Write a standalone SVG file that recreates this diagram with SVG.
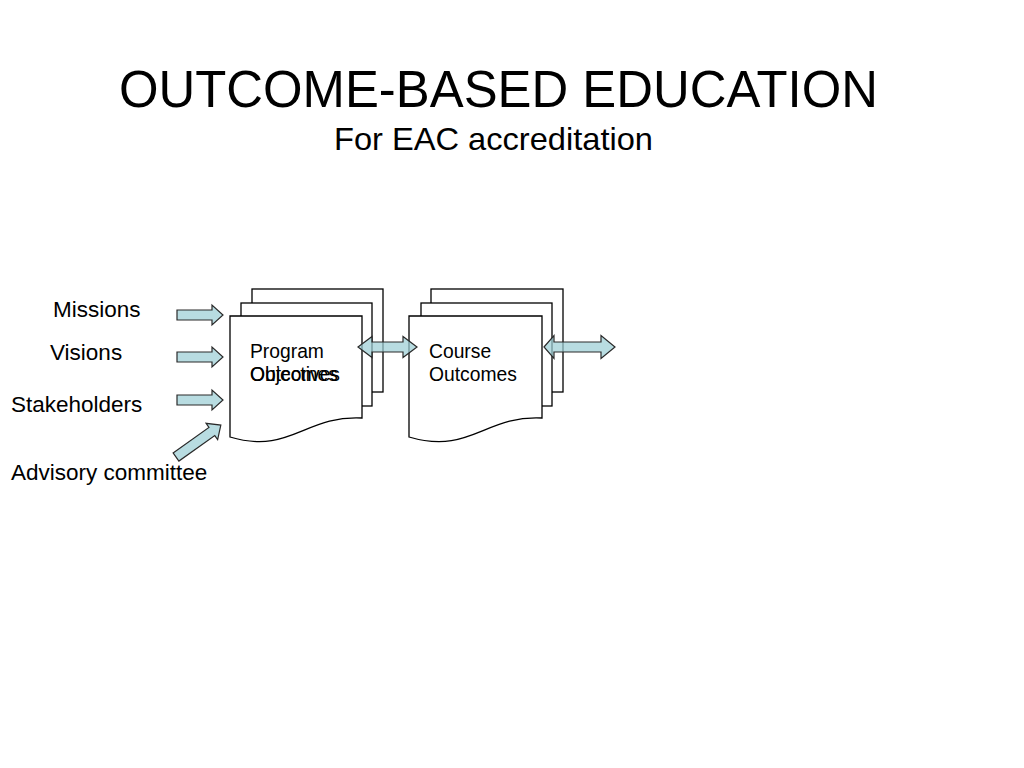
<svg xmlns="http://www.w3.org/2000/svg" width="1024" height="768" viewBox="0 0 1024 768">
  <style>
    text { font-family: "Liberation Sans", Arial, sans-serif; fill: #000; }
    .lbl { font-size: 22.5px; }
    .doc { font-size: 19.3px; }
    .page { fill: #fff; stroke: #000; stroke-width: 1.3; }
    .arr { fill: #9ccfd5; fill-opacity: 0.72; stroke: #2a2a2a; stroke-width: 1.2; stroke-linejoin: miter; }
  </style>
  <defs>
    <path id="rarrow" d="M0,-5 H35 V-10 L46,0 L35,10 V5 H0 Z"/>
  </defs>
  <rect width="1024" height="768" fill="#fff"/>

  <g id="title">
    <text x="119" y="107" font-size="52" textLength="759" lengthAdjust="spacingAndGlyphs">OUTCOME-BASED EDUCATION</text>
  </g>
  <g id="subtitle">
    <text x="334" y="150" font-size="32" textLength="319" lengthAdjust="spacingAndGlyphs">For EAC accreditation</text>
  </g>

  <g id="missions"><text class="lbl" x="53" y="317">Missions</text></g>
  <g id="visions"><text class="lbl" x="50" y="360">Visions</text></g>
  <g id="stakeholders"><text class="lbl" x="11" y="412">Stakeholders</text></g>
  <g id="advisory"><text class="lbl" x="11" y="480">Advisory committee</text></g>

  <g id="program-objectives">
    <rect class="page" x="252" y="289" width="131" height="103"/>
    <rect class="page" x="241" y="303" width="131" height="103"/>
    <path class="page" d="M230,316 H362 V418 C305,415 290,455 230,437 Z"/>
    <text class="doc" x="250" y="358">Program</text>
    <text class="doc" x="250" y="381">Objectives</text>
    <text class="doc" x="250" y="381">Outcomes</text>
  </g>

  <g id="course-outcomes">
    <rect class="page" x="431" y="289" width="132" height="103"/>
    <rect class="page" x="421" y="303" width="131" height="103"/>
    <path class="page" d="M409,316 H542 V418 C485,415 470,455 409,437 Z"/>
    <text class="doc" x="429" y="358">Course</text>
    <text class="doc" x="429" y="381">Outcomes</text>
  </g>

  <g id="connectors">
    <use href="#rarrow" class="arr" transform="translate(177,315)"/>
    <use href="#rarrow" class="arr" transform="translate(177,357)"/>
    <use href="#rarrow" class="arr" transform="translate(177,400)"/>
    <path class="arr" d="M0,-5 H44 V-10 L55,0 L44,10 V5 H0 Z" transform="translate(176,457) rotate(-35.4)"/>
    <path class="arr" d="M358,347 L372,336.5 V342 H403 V336.5 L417,347 L403,357.5 V352 H372 V357.5 Z"/>
    <path class="arr" d="M544,347 L554,335.5 V342 H601 V335.5 L615,347 L601,358.5 V352 H554 V358.5 Z"/>
  </g>
</svg>
